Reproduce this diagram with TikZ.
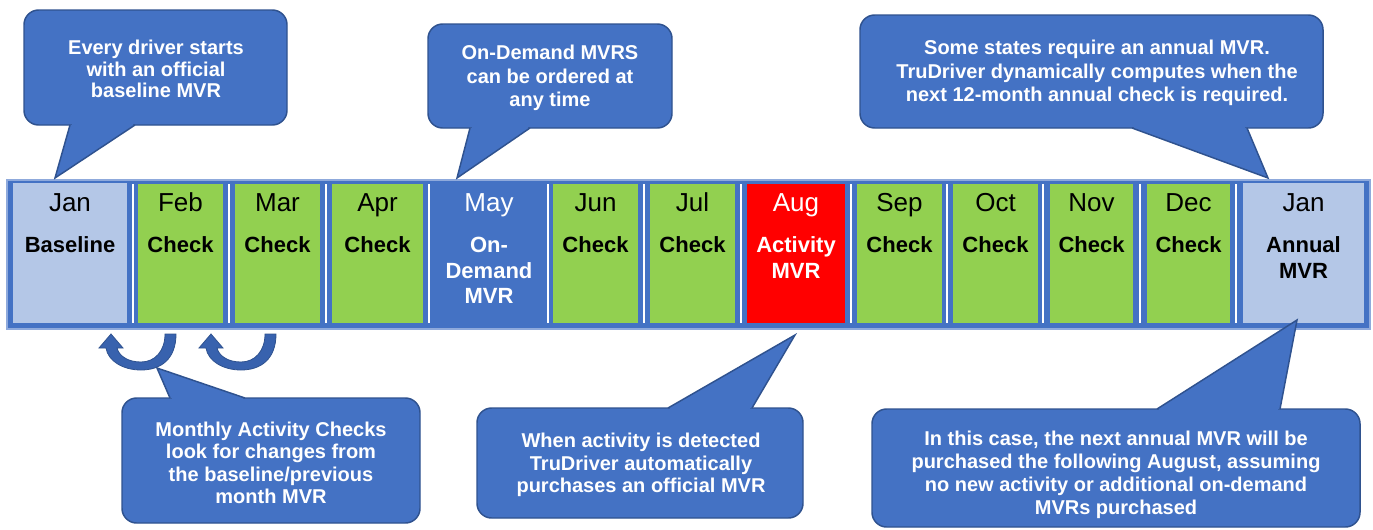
\documentclass[tikz,border=0pt]{standalone}
\usepackage{fontspec}
\setmainfont{Liberation Sans}
\usetikzlibrary{fit}
\definecolor{bandblue}{HTML}{4472C4}
\definecolor{bandedge}{HTML}{8FAADC}
\definecolor{lightcell}{HTML}{B4C7E7}
\definecolor{greencell}{HTML}{92D050}
\definecolor{redcell}{HTML}{FF0000}
\definecolor{callfill}{HTML}{4472C4}
\definecolor{callline}{HTML}{2F528F}
\definecolor{arrowfill}{HTML}{3862AE}
\newcommand\calloutptr[3]{%
  \fill[callfill] (#1) -- (#2) -- (#3) -- cycle;
  \draw[callfill, line width=1.8pt, shorten >=1.3pt, shorten <=1.3pt] (#1) -- (#3);
  \draw[callline, line width=1.1pt, line join=miter] (#1) -- (#2) -- (#3);
}
\begin{document}
\begin{tikzpicture}[x=0.75pt,y=-0.75pt,
  cellbox/.style={inner sep=0pt, outer sep=0pt, draw=none},
  month/.style={anchor=base, inner sep=0pt, font=\fontsize{19.5}{23}\selectfont},
  lab/.style={anchor=base, inner sep=0pt, font=\bfseries\fontsize{16.5}{19.5}\selectfont},
  callbox/.style={fill=callfill, draw=callline, line width=1.1pt, rounded corners=11pt, inner sep=0pt, outer sep=0pt},
  calltext/.style={text=white, align=center, inner sep=0pt, font=\bfseries\fontsize{15}{16.9}\selectfont},
  sepline/.style={draw=white, line width=1.6pt},
  uarrow/.pic={
    \filldraw[fill=arrowfill, draw=callline, line width=0.6pt]
      (65,0) .. controls (65,25) and (50,36) .. (30,36)
      .. controls (12,36) and (-3,27) .. (-5,14) -- (-12,14) -- (0,0) -- (12,14) -- (6,14)
      .. controls (8,22) and (17,28) .. (30,28)
      .. controls (44,28) and (54,17) .. (54,0) -- cycle;
  }
]
\useasboundingbox (0,0) rectangle (1373,529);

% timeline band
\node[fit={(7,180)(1370,329)}, fill=bandblue, draw=bandedge, line width=0.8pt, inner sep=0pt] (band) {};

% cells
\node[cellbox, fill=lightcell, fit={(13,183)(127,323)}] (m1) {};
\node[cellbox, fill=greencell, fit={(138,184)(223,323)}] (m2) {};
\node[cellbox, fill=greencell, fit={(235,184)(320,323)}] (m3) {};
\node[cellbox, fill=greencell, fit={(332,184)(423,323)}] (m4) {};
\node[cellbox, fill=bandblue, fit={(433,184)(545,323)}] (m5) {};
\node[cellbox, fill=greencell, fit={(553,184)(638,323)}] (m6) {};
\node[cellbox, fill=greencell, fit={(650,184)(735,323)}] (m7) {};
\node[cellbox, fill=redcell, fit={(747,184)(845,323)}] (m8) {};
\node[cellbox, fill=greencell, fit={(857,184)(942,323)}] (m9) {};
\node[cellbox, fill=greencell, fit={(953,184)(1038,323)}] (m10) {};
\node[cellbox, fill=greencell, fit={(1050,184)(1133,323)}] (m11) {};
\node[cellbox, fill=greencell, fit={(1147,184)(1230,323)}] (m12) {};
\node[cellbox, fill=lightcell, fit={(1243,183)(1364,323)}] (m13) {};

\foreach \sx in {133,229,326,429,548,644,741,851,947,1043,1140,1236}
  \draw[sepline] (\sx,184) -- (\sx,323);

% month texts
\node[month] (n1) at (70,211) {Jan};
\node[lab] (l1) at (70,252) {Baseline};
\node[month] (n2) at (180.5,211) {Feb};
\node[lab] (l2) at (180.5,252) {Check};
\node[month] (n3) at (277.5,211) {Mar};
\node[lab] (l3) at (277.5,252) {Check};
\node[month] (n4) at (377.5,211) {Apr};
\node[lab] (l4) at (377.5,252) {Check};
\node[month, text=white] (n5) at (489,211) {May};
\node[lab, text=white] (l5a) at (489,252) {On-};
\node[lab, text=white] (l5b) at (489,278) {Demand};
\node[lab, text=white] (l5c) at (489,303) {MVR};
\node[month] (n6) at (595.5,211) {Jun};
\node[lab] (l6) at (595.5,252) {Check};
\node[month] (n7) at (692.5,211) {Jul};
\node[lab] (l7) at (692.5,252) {Check};
\node[month, text=white] (n8) at (796,211) {Aug};
\node[lab, text=white] (l8a) at (796,252) {Activity};
\node[lab, text=white] (l8b) at (796,278) {MVR};
\node[month] (n9) at (899.5,211) {Sep};
\node[lab] (l9) at (899.5,252) {Check};
\node[month] (n10) at (995.5,211) {Oct};
\node[lab] (l10) at (995.5,252) {Check};
\node[month] (n11) at (1091.5,211) {Nov};
\node[lab] (l11) at (1091.5,252) {Check};
\node[month] (n12) at (1188.5,211) {Dec};
\node[lab] (l12) at (1188.5,252) {Check};
\node[month] (n13) at (1303.5,211) {Jan};
\node[lab] (l13a) at (1303.5,252) {Annual};
\node[lab] (l13b) at (1303.5,278) {MVR};

% curved arrows
\pic (a1) at (111,334) {uarrow};
\pic (a2) at (211,334) {uarrow};

% callout 1
\node[callbox, fit={(24,10)(287,125)}] (c1) {};
\coordinate (c1a) at (70,125); \coordinate (c1t) at (55,178); \coordinate (c1b) at (135,125);
\calloutptr{c1a}{c1t}{c1b}
\node[calltext, font=\bfseries\fontsize{15}{16.3}\selectfont] (t1) at (156,69) {Every driver starts\\with an official\\baseline MVR};

% callout 2
\node[callbox, fit={(428,24)(672,128)}] (c2) {};
\coordinate (c2a) at (470,128); \coordinate (c2t) at (457,178); \coordinate (c2b) at (530,128);
\calloutptr{c2a}{c2t}{c2b}
\node[calltext, font=\bfseries\fontsize{15}{17.4}\selectfont] (t2) at (550,78) {On-Demand MVRS\\can be ordered at\\any time};

% callout 3
\node[callbox, fit={(860,15)(1323,128)}] (c3) {};
\coordinate (c3a) at (1132,128); \coordinate (c3t) at (1268,178); \coordinate (c3b) at (1247,128);
\calloutptr{c3a}{c3t}{c3b}
\node[calltext, font=\bfseries\fontsize{15}{17.6}\selectfont] (t3) at (1097,73) {Some states require an annual MVR.\\TruDriver dynamically computes when the\\next 12-month annual check is required.};

% callout 4
\node[callbox, fit={(122,398)(420,523)}] (c4) {};
\coordinate (c4a) at (170,398); \coordinate (c4t) at (157,368); \coordinate (c4b) at (245,398);
\calloutptr{c4a}{c4t}{c4b}
\node[calltext] (t4) at (271,463) {Monthly Activity Checks\\look for changes from\\the baseline/previous\\month MVR};

% callout 5
\node[callbox, fit={(477,408)(803,518)}] (c5) {};
\coordinate (c5a) at (668,408); \coordinate (c5t) at (795,335); \coordinate (c5b) at (752,408);
\calloutptr{c5a}{c5t}{c5b}
\node[calltext] (t5) at (641,465) {When activity is detected\\TruDriver automatically\\purchases an official MVR};

% callout 6
\node[callbox, fit={(872,409)(1360,527)}] (c6) {};
\coordinate (c6a) at (1157,409); \coordinate (c6t) at (1297,320); \coordinate (c6b) at (1280,409);
\calloutptr{c6a}{c6t}{c6b}
\node[calltext, font=\bfseries\fontsize{15}{17.1}\selectfont] (t6) at (1116,475) {In this case, the next annual MVR will be\\purchased the following August, assuming\\no new activity or additional on-demand\\MVRs purchased};
\end{tikzpicture}
\end{document}
